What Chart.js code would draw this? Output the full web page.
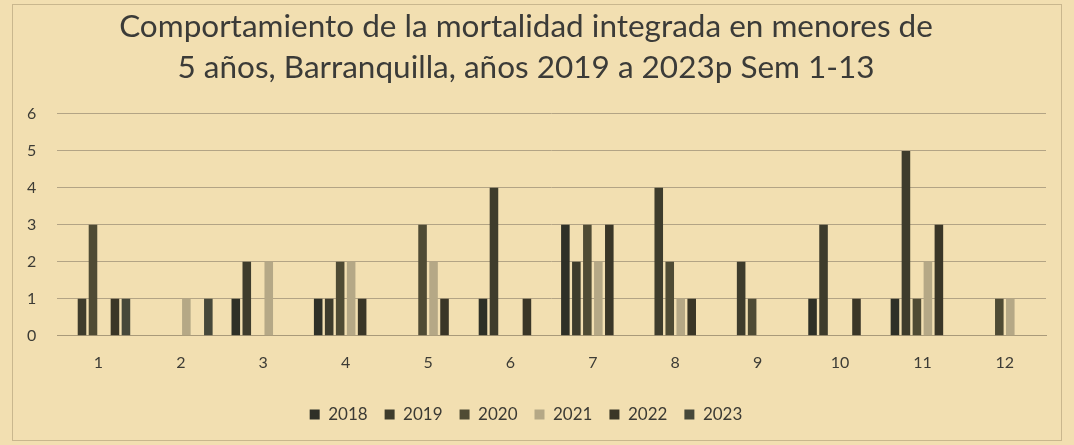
<!DOCTYPE html>
<html>
<head>
<meta charset="utf-8">
<script src="https://cdn.jsdelivr.net/npm/chart.js@4.4.1/dist/chart.umd.min.js"></script>
<style>
  html, body { margin: 0; padding: 0; background: #f2dfb1; }
  #wrap { width: 1074px; height: 445px; }
</style>
</head>
<body>
<div id="wrap"><canvas id="grafico" width="1074" height="445"></canvas></div>
<script>
// datos
const categorias = ['1', '2', '3', '4', '5', '6', '7', '8', '9', '10', '11', '12'];
const anios = ['2018', '2019', '2020', '2021', '2022', '2023'];
const serie2018 = [0, 0, 1, 1, 0, 1, 3, 0, 0, 1, 1, 0];
const serie2019 = [1, 0, 2, 1, 0, 4, 2, 4, 2, 3, 5, 0];
const serie2020 = [3, 0, 0, 2, 3, 0, 3, 2, 1, 0, 1, 1];
const serie2021 = [0, 1, 2, 2, 2, 0, 2, 1, 0, 0, 2, 1];
const serie2022 = [1, 0, 0, 1, 1, 1, 3, 1, 0, 1, 3, 0];
const serie2023 = [1, 1, 0, 0, 0, 0, 0, 0, 0, 0, 0, 0];
const ticksY = [0, 1, 2, 3, 4, 5, 6];

const series = [serie2018, serie2019, serie2020, serie2021, serie2022, serie2023];
const colores = ['#2e3027', '#3e3c2c', '#4f4b34', '#b5a886', '#3a3627', '#46483a'];

// fondo y marco del grafico
const fondo = {
    id: 'fondo',
    beforeDraw(chart) {
        const ctx = chart.ctx;
        ctx.save();
        ctx.fillStyle = '#f2dfb1';
        ctx.fillRect(0, 0, chart.width, chart.height);
        ctx.strokeStyle = 'rgba(150,135,100,0.45)';
        ctx.lineWidth = 1;
        ctx.strokeRect(12.5, 4.5, chart.width - 25, chart.height - 9);
        ctx.restore();
    }
};

const ctx = document.getElementById('grafico').getContext('2d');

new Chart(ctx, {
    type: 'bar',
    data: {
        labels: categorias,
        datasets: anios.map((anio, i) => ({
            label: anio,
            data: series[i],
            backgroundColor: colores[i],
            borderWidth: 0,
            categoryPercentage: 0.8,
            barPercentage: 0.78
        }))
    },
    options: {
        responsive: false,
        animation: false,
        layout: { padding: { top: 6, left: 6, right: 28, bottom: 12 } },
        plugins: {
            title: {
                display: true,
                text: ['Comportamiento de la mortalidad integrada en menores de',
                       '5 años, Barranquilla, años 2019 a 2023p Sem 1-13'],
                color: '#3b3b38',
                font: { family: 'Lato', size: 31.5, weight: 'normal', lineHeight: 1.3 },
                padding: { top: 0, bottom: 26 }
            },
            legend: {
                position: 'bottom',
                labels: {
                    color: '#3b3a34',
                    font: { family: 'Lato', size: 17 },
                    boxWidth: 10,
                    boxHeight: 10,
                    padding: 17
                }
            },
            tooltip: { enabled: false }
        },
        scales: {
            x: {
                grid: { display: false, drawTicks: false },
                border: { display: true, color: '#a99a7a', width: 1 },
                ticks: {
                    color: '#3d3c36',
                    font: { family: 'Lato', size: 16 },
                    padding: 17
                }
            },
            y: {
                min: 0,
                max: 6,
                afterBuildTicks(scale) {
                    scale.ticks = ticksY.map(v => ({ value: v }));
                },
                grid: { color: '#b3a485', lineWidth: 1, drawTicks: false },
                border: { display: false },
                ticks: {
                    color: '#3d3c36',
                    font: { family: 'Lato', size: 16 },
                    padding: 21
                }
            }
        }
    },
    plugins: [fondo]
});
</script>
</body>
</html>
